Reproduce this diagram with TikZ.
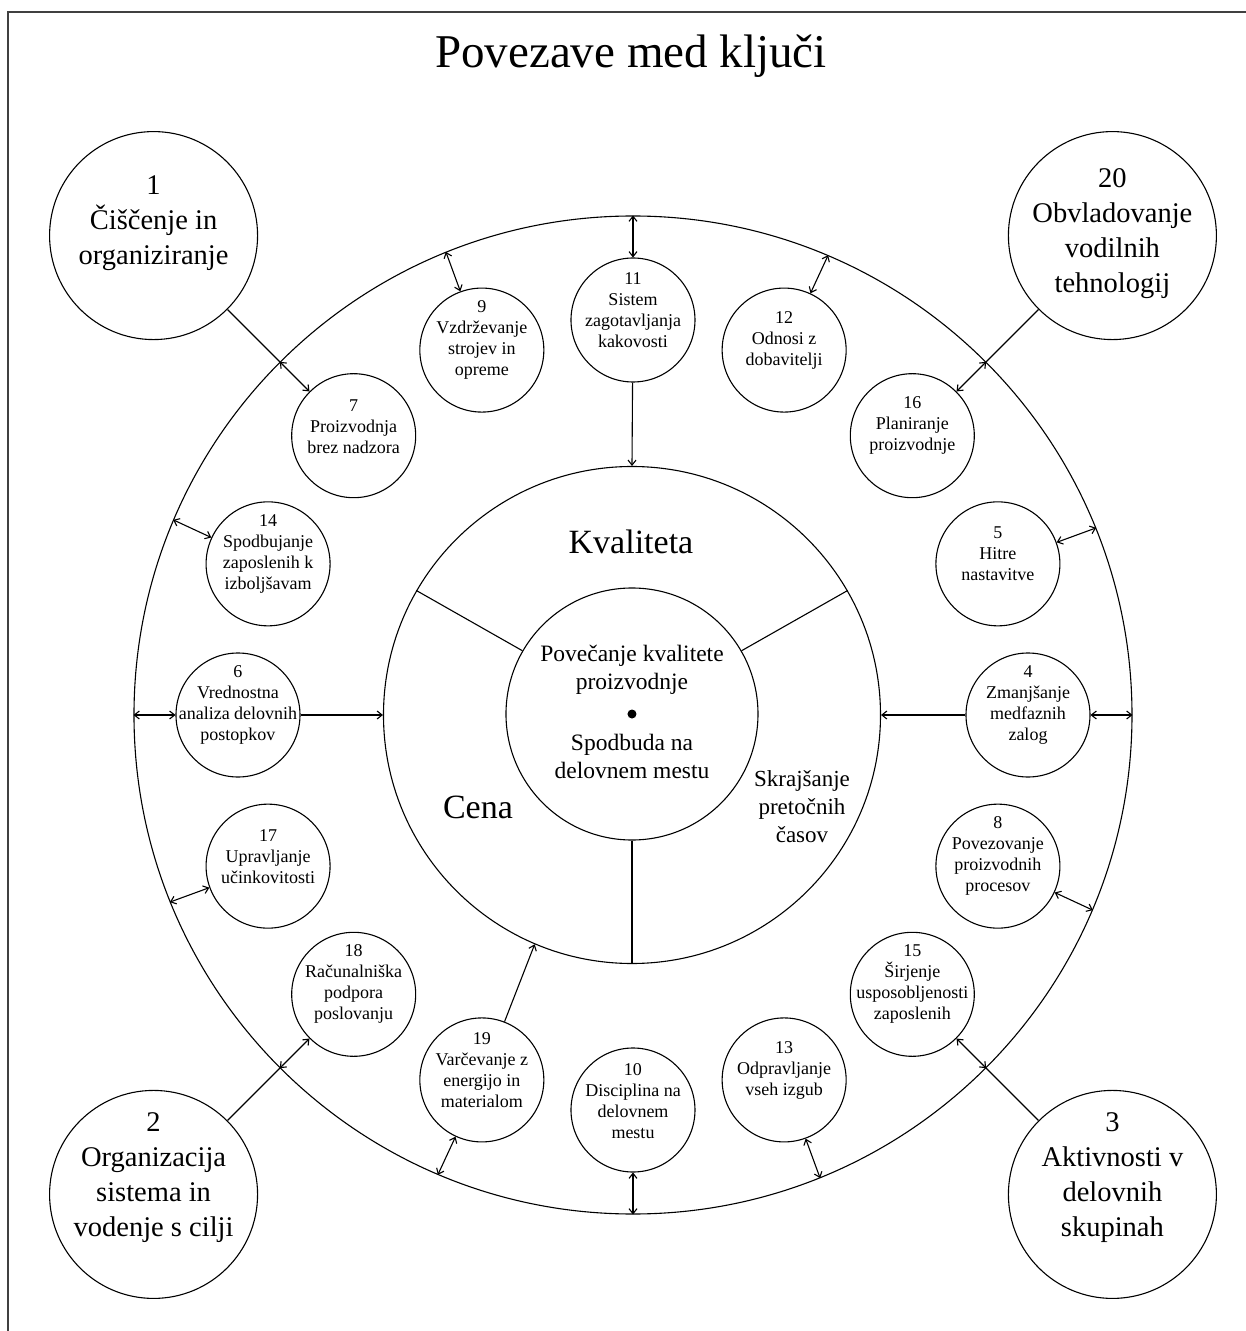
\documentclass[tikz,border=0pt]{standalone}
\usepackage{fontspec}
\setmainfont{Liberation Serif}
\usetikzlibrary{arrows.meta,calc}
\begin{document}
\begin{tikzpicture}[x=1pt,y=1pt,
  line width=1.1pt,
  >={Straight Barb[length=5pt,width=8pt]},
  ring/.style={circle,draw,inner sep=0pt},
  smallc/.style={ring,minimum size=124pt},
  bigc/.style={ring,minimum size=208pt},
  stxt/.style={align=center,inner sep=0pt,font=\fontsize{18pt}{21pt}\selectfont},
  btxt/.style={align=center,inner sep=0pt,font=\fontsize{28.5pt}{35pt}\selectfont},
  mtxt/.style={align=center,inner sep=0pt,font=\fontsize{23.5pt}{28pt}\selectfont},
  ltxt/.style={inner sep=0pt,font=\fontsize{34pt}{40pt}\selectfont},
]
\useasboundingbox (-633,-616) rectangle (613,715);
% frame (only top and left edges visible)
\draw[line width=2pt,black!75] (-625,-620) -- (-625,703) -- (620,703);

% title
\node[anchor=base,inner sep=0pt,font=\fontsize{47pt}{50pt}\selectfont] (title) at (-2,647) {Povezave med ključi};

% rings
\node[ring,minimum size=998pt] (outer) at (0,0) {};
\node[ring,minimum size=497pt] (mid) at (-1,0) {};
\node[ring,minimum size=252pt] (inner) at (-1,1) {};
\coordinate (dot) at (-1,1);
\fill[black] (dot) circle (4.5pt);

% dividers
\draw (inner.30) -- (mid.30);
\draw (inner.150) -- (mid.150);
\draw (inner.270) -- (mid.270);

% centre texts
\node[ltxt] (kval) at (-2,173) {Kvaliteta};
\node[ltxt] (cena) at (-155,-92) {Cena};
\node[mtxt,font=\fontsize{23pt}{28pt}\selectfont] (skraj) at (169,-92) {Skrajšanje\\pretočnih\\časov};
\node[mtxt] (pov) at (-1,45) {Povečanje kvalitete\\proizvodnje};
\node[mtxt] (spod) at (-1,-41) {Spodbuda na\\delovnem mestu};

% small circles
\node[smallc] (c11) at (90:395) {};
\node[stxt] (t11) at ($(c11)+(0,10)$) {11\\Sistem\\zagotavljanja\\kakovosti};
\node[smallc] (c9) at (112.5:395) {};
\node[stxt] (t9) at ($(c9)+(0,10)$) {9\\Vzdrževanje\\strojev in\\opreme};
\node[smallc] (c7) at (135:395) {};
\node[stxt] (t7) at ($(c7)+(0,9)$) {7\\Proizvodnja\\brez nadzora};
\node[smallc] (c14) at (157.5:395) {};
\node[stxt] (t14) at ($(c14)+(0,10)$) {14\\Spodbujanje\\zaposlenih k\\izboljšavam};
\node[smallc] (c6) at (180:395) {};
\node[stxt] (t6) at ($(c6)+(0,10)$) {6\\Vrednostna\\analiza delovnih\\postopkov};
\node[smallc] (c17) at (202.5:395) {};
\node[stxt] (t17) at ($(c17)+(0,10)$) {17\\Upravljanje\\učinkovitosti};
\node[smallc] (c18) at (225:395) {};
\node[stxt] (t18) at ($(c18)+(0,10)$) {18\\Računalniška\\podpora\\poslovanju};
\node[smallc] (c19) at (247.5:395) {};
\node[stxt] (t19) at ($(c19)+(0,10)$) {19\\Varčevanje z\\energijo in\\materialom};
\node[smallc] (c10) at (270:395) {};
\node[stxt] (t10) at ($(c10)+(0,9)$) {10\\Disciplina na\\delovnem\\mestu};
\node[smallc] (c13) at (292.5:395) {};
\node[stxt] (t13) at ($(c13)+(0,9)$) {13\\Odpravljanje\\vseh izgub};
\node[smallc] (c15) at (315:395) {};
\node[stxt] (t15) at ($(c15)+(0,10)$) {15\\Širjenje\\usposobljenosti\\zaposlenih};
\node[smallc] (c8) at (337.5:395) {};
\node[stxt] (t8) at ($(c8)+(0,10)$) {8\\Povezovanje\\proizvodnih\\procesov};
\node[smallc] (c4) at (0:395) {};
\node[stxt] (t4) at ($(c4)+(0,10)$) {4\\Zmanjšanje\\medfaznih\\zalog};
\node[smallc] (c5) at (22.5:395) {};
\node[stxt] (t5) at ($(c5)+(0,10)$) {5\\Hitre\\nastavitve};
\node[smallc] (c16) at (45:395) {};
\node[stxt] (t16) at ($(c16)+(0,10)$) {16\\Planiranje\\proizvodnje};
\node[smallc] (c12) at (67.5:395) {};
\node[stxt] (t12) at ($(c12)+(0,10)$) {12\\Odnosi z\\dobavitelji};

% big corner circles
\node[bigc] (b1) at (135:678) {};
\node[btxt] (t1) at ($(b1)+(0,12)$) {1\\Čiščenje in\\organiziranje};
\node[bigc] (b20) at (45:678) {};
\node[btxt] (t20) at ($(b20)+(0,2)$) {20\\Obvladovanje\\vodilnih\\tehnologij};
\node[bigc] (b2) at (225:678) {};
\node[btxt] (t2) at ($(b2)+(0,17)$) {2\\Organizacija\\sistema in\\vodenje s cilji};
\node[bigc] (b3) at (315:678) {};
\node[btxt] (t3) at ($(b3)+(0,17)$) {3\\Aktivnosti v\\delovnih\\skupinah};

% outer ring <-> small circles
\foreach \a/\n in {90/c11,112.5/c9,135/c7,157.5/c14,180/c6,202.5/c17,225/c18,247.5/c19,270/c10,292.5/c13,315/c15,337.5/c8,0/c4,22.5/c5,45/c16,67.5/c12}
  \draw[<->] (outer.\a) -- (\n);

% small circles -> middle ring
\draw[->] (c11) -- (mid.90);
\draw[->] (c6) -- (mid.180);
\draw[->] (c4) -- (mid.0);
\draw[->] (c19) -- (mid.247.5);

% corner circles -> outer ring
\draw (b1) -- (outer.135);
\draw (b20) -- (outer.45);
\draw (b2) -- (outer.225);
\draw (b3) -- (outer.315);
\end{tikzpicture}
\end{document}
